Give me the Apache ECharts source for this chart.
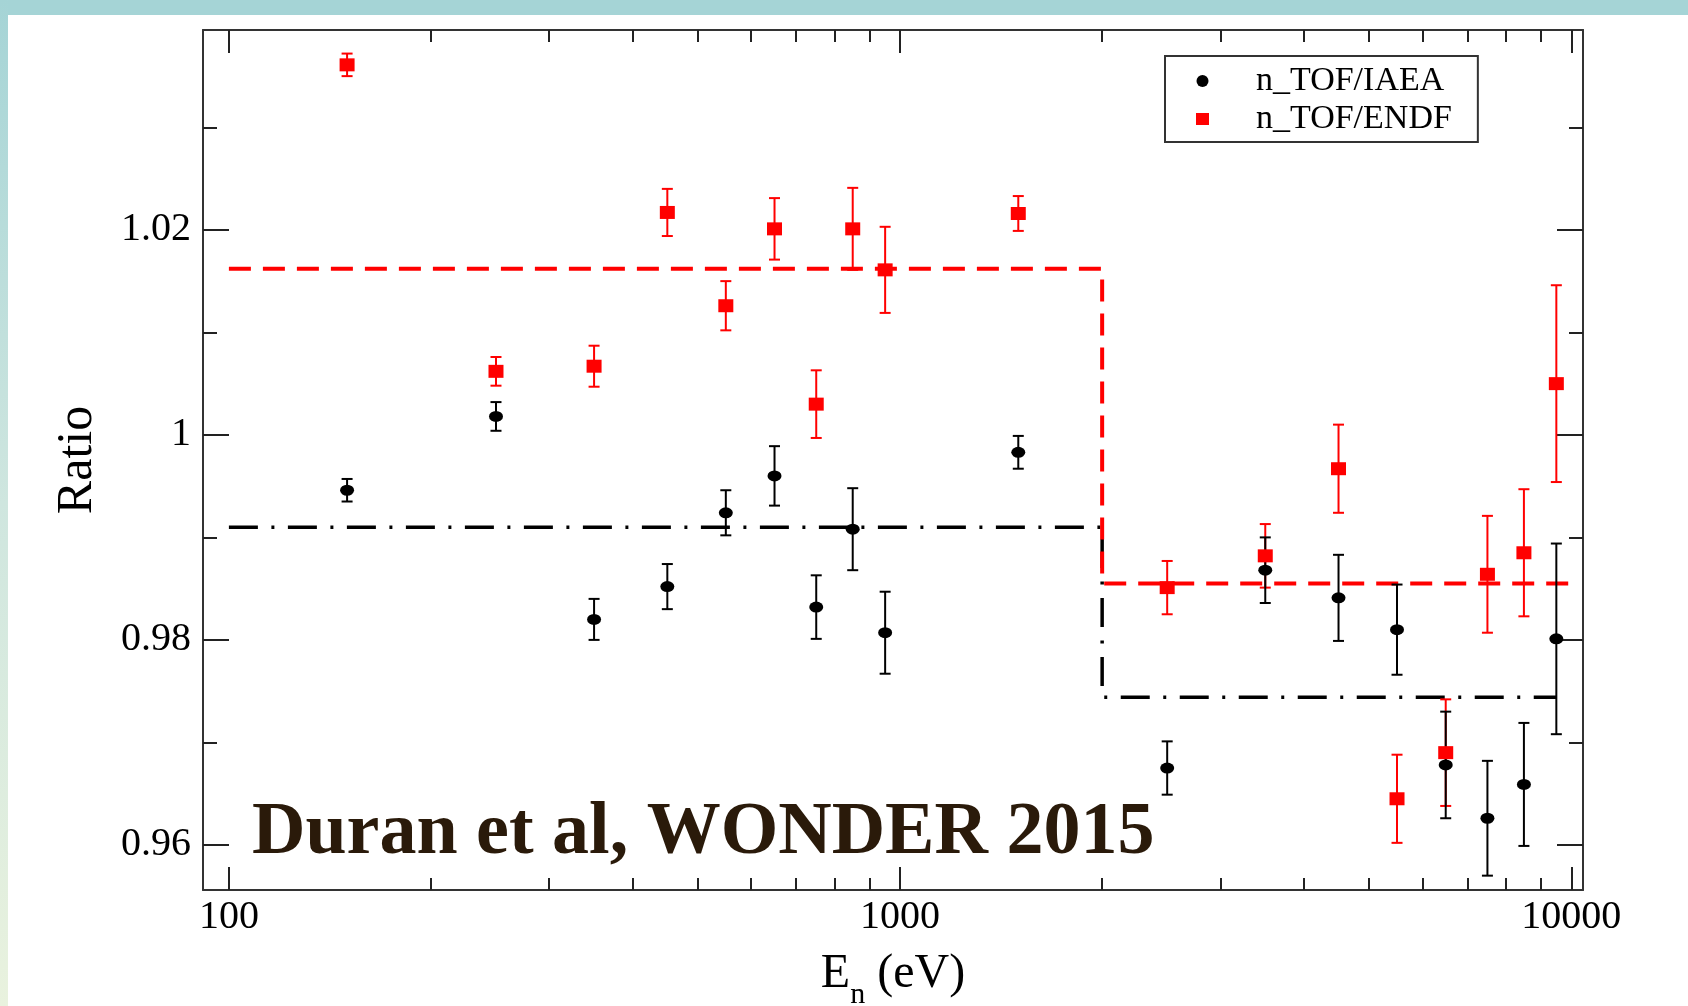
<!DOCTYPE html>
<html>
<head>
<meta charset="utf-8">
<title>n_TOF ratio</title>
<script src="https://cdn.jsdelivr.net/npm/echarts@6.0.0/dist/echarts.min.js"></script>
<style>
    html, body { margin: 0; padding: 0; background: #fff; }
    #chartRatio { width: 1688px; height: 1006px; }
</style>
</head>
<body>
<div id="chartRatio"></div>
<script>
// neutron energies (eV) of the points
var energies = [150, 250, 350, 450, 550, 650, 750, 850, 950, 1500, 2500, 3500, 4500, 5500, 6500, 7500, 8500, 9500];

// n_TOF/IAEA
var iaeaRatio = [0.9946, 1.0018, 0.9820, 0.9852, 0.9924, 0.9960, 0.9832, 0.9908, 0.9807, 0.9983, 0.9675, 0.9868, 0.9841, 0.9810, 0.9678, 0.9626, 0.9659, 0.9801];
var iaeaErr = [0.0011, 0.0014, 0.0020, 0.0022, 0.0022, 0.0029, 0.0031, 0.0040, 0.0040, 0.0016, 0.0026, 0.0032, 0.0042, 0.0044, 0.0052, 0.0056, 0.0060, 0.0093];

// n_TOF/ENDF
var endfRatio = [1.0361, 1.0062, 1.0067, 1.0217, 1.0126, 1.0201, 1.0030, 1.0201, 1.0161, 1.0216, 0.9851, 0.9882, 0.9967, 0.9645, 0.9690, 0.9864, 0.9885, 1.0050];
var endfErr = [0.0011, 0.0014, 0.0020, 0.0023, 0.0024, 0.0030, 0.0033, 0.0040, 0.0042, 0.0017, 0.0026, 0.0031, 0.0043, 0.0043, 0.0052, 0.0057, 0.0062, 0.0096];

// averages (step lines)
var endfMeanX = [100, 2000, 2000, 10000];
var endfMeanY = [1.0162, 1.0162, 0.9855, 0.9855];
var iaeaMeanX = [100, 2000, 2000, 9500];
var iaeaMeanY = [0.9910, 0.9910, 0.9744, 0.9744];

// ticks
var xMajor = [100, 1000, 10000];
var xMinor = [200, 300, 400, 500, 600, 700, 800, 900, 2000, 3000, 4000, 5000, 6000, 7000, 8000, 9000];
var yMajor = [0.96, 0.98, 1, 1.02];
var yMinor = [0.97, 0.99, 1.01, 1.03];

var serif = 'Liberation Serif';
var frameColor = '#333';

function zip(xs, ys, es) {
    return xs.map(function (x, i) {
        return es ? [x, ys[i], es[i]] : [x, ys[i]];
    });
}

function errorBarItem(params, api) {
    var x = api.value(0), y = api.value(1), e = api.value(2);
    var top = api.coord([x, y + e]);
    var bot = api.coord([x, y - e]);
    var w = 5.5;
    var style = { stroke: api.visual('color'), lineWidth: 2 };
    return {
        type: 'group',
        children: [
            { type: 'line', shape: { x1: top[0], y1: top[1], x2: bot[0], y2: bot[1] }, style: style },
            { type: 'line', shape: { x1: top[0] - w, y1: top[1], x2: top[0] + w, y2: top[1] }, style: style },
            { type: 'line', shape: { x1: bot[0] - w, y1: bot[1], x2: bot[0] + w, y2: bot[1] }, style: style }
        ]
    };
}

// one axis, ticks pointing inside the frame
function xAxisDef(grid, pos, ticks, len, withLine) {
    return {
        type: 'log', gridIndex: grid, position: pos,
        min: 91.5, max: 10410,
        axisLine: { show: withLine, onZero: false, lineStyle: { color: frameColor, width: 2 } },
        axisTick: { show: true, inside: true, length: len, customValues: ticks, lineStyle: { color: '#222', width: 2 } },
        axisLabel: { show: false },
        splitLine: { show: false },
        minorTick: { show: false }
    };
}
function yAxisDef(grid, pos, ticks, len, withLine) {
    return {
        type: 'value', gridIndex: grid, position: pos,
        min: 0.9556, max: 1.0395,
        axisLine: { show: withLine, onZero: false, lineStyle: { color: frameColor, width: 2 } },
        axisTick: { show: true, inside: true, length: len, customValues: ticks, lineStyle: { color: '#222', width: 2 } },
        axisLabel: { show: false },
        splitLine: { show: false },
        minorTick: { show: false }
    };
}

var myChartRatio = echarts.init(document.getElementById('chartRatio'));

var xBottom = xAxisDef(0, 'bottom', xMajor, 23, true);
xBottom.axisLabel = {
    show: true, customValues: xMajor, margin: 7,
    fontFamily: serif, fontSize: 40, color: '#000',
    formatter: function (v) { return String(Math.round(v)); }
};
xBottom.name = '{a|E}{b|n}{c| }{a|(eV)}';
xBottom.nameLocation = 'middle';
xBottom.nameGap = 60;
xBottom.nameTextStyle = {
    fontFamily: serif, color: '#000',
    rich: {
        a: { fontFamily: serif, fontSize: 48, lineHeight: 48, verticalAlign: 'top', color: '#000' },
        b: { fontFamily: serif, fontSize: 30, lineHeight: 30, verticalAlign: 'bottom', color: '#000' },
        c: { fontFamily: serif, fontSize: 48, lineHeight: 60, verticalAlign: 'top', color: '#000' }
    }
};

var yLeft = yAxisDef(0, 'left', yMajor, 26, true);
yLeft.axisLabel = {
    show: true, customValues: yMajor, margin: 12,
    fontFamily: serif, fontSize: 40, color: '#000',
    formatter: function (v) { return String(Math.round(v * 100) / 100); }
};
yLeft.name = 'Ratio';
yLeft.nameLocation = 'middle';
yLeft.nameGap = 100;
yLeft.nameTextStyle = { fontFamily: serif, fontSize: 50, color: '#000' };

var option = {
    backgroundColor: '#fff',
    animation: false,
    grid: [
        { left: 203, right: 105, top: 30, bottom: 116, outerBoundsMode: 'none' },
        { left: 203, right: 105, top: 30, bottom: 116, outerBoundsMode: 'none' }
    ],
    xAxis: [
        xBottom,
        xAxisDef(0, 'top', xMajor, 23, true),
        xAxisDef(1, 'bottom', xMinor, 12, false),
        xAxisDef(1, 'top', xMinor, 12, false)
    ],
    yAxis: [
        yLeft,
        yAxisDef(0, 'right', yMajor, 26, true),
        yAxisDef(1, 'left', yMinor, 14, false),
        yAxisDef(1, 'right', yMinor, 14, false)
    ],
    legend: {
        orient: 'vertical',
        left: 1165, top: 56,
        padding: [8, 26, 6, 31],
        backgroundColor: '#fff',
        borderColor: frameColor, borderWidth: 2,
        itemWidth: 13, itemHeight: 12, itemGap: 4,
        textStyle: { fontFamily: serif, fontSize: 34, lineHeight: 33, color: '#000', padding: [0, 0, 0, 42] },
        data: [
            { name: 'n_TOF/IAEA', icon: 'circle' },
            { name: 'n_TOF/ENDF', icon: 'rect' }
        ]
    },
    graphic: [
        { type: 'rect', z: 0, shape: { x: 0, y: 0, width: 1688, height: 15 }, style: { fill: '#a5d4d6' } },
        {
            type: 'rect', z: 0, shape: { x: 0, y: 0, width: 8, height: 1006 },
            style: {
                fill: new echarts.graphic.LinearGradient(0, 0, 0, 1, [
                    { offset: 0, color: '#a5d4d6' },
                    { offset: 0.5, color: '#cfe6df' },
                    { offset: 1, color: '#e9f2de' }
                ])
            }
        },
        {
            type: 'text', z: 100, x: 252, y: 834,
            style: {
                text: 'Duran et al, WONDER 2015',
                font: 'bold 74px "Liberation Serif"',
                fill: '#2a1a0a',
                verticalAlign: 'middle'
            }
        }
    ],
    series: [
        {
            name: 'iaeaMean', type: 'line', z: 2, xAxisIndex: 0, yAxisIndex: 0,
            data: zip(iaeaMeanX, iaeaMeanY), showSymbol: false, symbol: 'none',
            lineStyle: { color: '#000', width: 3.5, type: [29, 13.5, 3, 13.5] }
        },
        {
            name: 'endfMean', type: 'line', z: 3, xAxisIndex: 0, yAxisIndex: 0,
            data: zip(endfMeanX, endfMeanY), showSymbol: false, symbol: 'none',
            lineStyle: { color: '#ff0000', width: 4, type: [22, 12] }
        },
        {
            name: 'endfErr', type: 'custom', z: 4, xAxisIndex: 0, yAxisIndex: 0,
            renderItem: errorBarItem, itemStyle: { color: '#ff0000' },
            encode: { x: 0, y: 1 },
            data: zip(energies, endfRatio, endfErr)
        },
        {
            name: 'iaeaErr', type: 'custom', z: 5, xAxisIndex: 0, yAxisIndex: 0,
            renderItem: errorBarItem, itemStyle: { color: '#000' },
            encode: { x: 0, y: 1 },
            data: zip(energies, iaeaRatio, iaeaErr)
        },
        {
            name: 'n_TOF/ENDF', type: 'scatter', z: 6, xAxisIndex: 0, yAxisIndex: 0,
            symbol: 'rect', symbolSize: [15, 13],
            itemStyle: { color: '#ff0000', opacity: 1 },
            data: zip(energies, endfRatio)
        },
        {
            name: 'n_TOF/IAEA', type: 'scatter', z: 7, xAxisIndex: 0, yAxisIndex: 0,
            symbol: 'circle', symbolSize: [14, 11],
            itemStyle: { color: '#000', opacity: 1 },
            data: zip(energies, iaeaRatio)
        }
    ]
};

myChartRatio.setOption(option);
</script>
</body>
</html>
